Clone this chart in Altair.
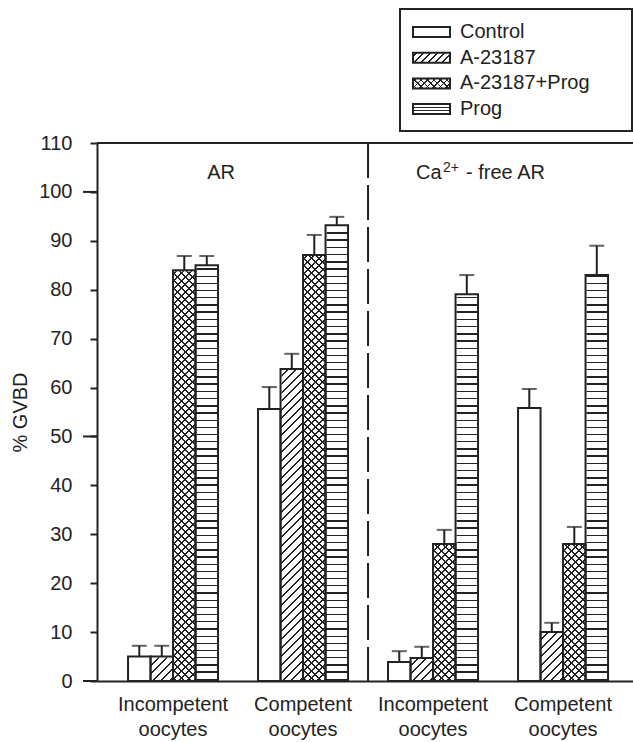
import altair as alt
import pandas as pd

# ---------------- data ----------------
MEDIA = ["AR", "AR", "Ca-free AR", "Ca-free AR"]
STAGES = ["Incompetent oocytes", "Competent oocytes", "Incompetent oocytes", "Competent oocytes"]
TREATMENTS = ["Control", "A-23187", "A-23187+Prog", "Prog"]
# % GVBD per group (rows) and treatment (columns)
GVBD = [
    [5.0, 5.0, 84.0, 85.0],
    [55.6, 63.8, 87.1, 93.2],
    [3.9, 4.7, 28.0, 79.1],
    [55.8, 10.0, 28.0, 83.0],
]
# upper error (SEM) per bar
ERR = [
    [2.2, 2.2, 2.9, 1.9],
    [4.5, 3.1, 4.1, 1.7],
    [2.2, 2.3, 2.9, 3.9],
    [3.9, 1.9, 3.5, 6.0],
]
Y_TICKS = [0, 10, 20, 30, 40, 50, 60, 70, 80, 90, 100, 110]
MAJOR_TICKS = [0, 50, 100]
YMAX = 110

GROUP_KEYS = [f"{m}|{s}" for m, s in zip(MEDIA, STAGES)]

rows = []
for gi, g in enumerate(GROUP_KEYS):
    for ti, t in enumerate(TREATMENTS):
        v = GVBD[gi][ti]
        e = ERR[gi][ti]
        rows.append({"group": g, "treatment": t, "value": v, "upper": v + e, "top": YMAX})
df = pd.DataFrame(rows)
legend_df = pd.DataFrame({"treatment": TREATMENTS})

# ---------------- layout / style ----------------
W, H = 536, 538
BAR_W = 22.5
INK = "#222222"
CLEAR = "rgba(255,255,255,0)"
FONT = "Liberation Sans"


def stripe_fill(kind, w, h, period, lw, phase=0.5):
    if kind == "h":
        span = h
        c = dict(x1=0, y1=0, x2=0, y2=1)
    else:
        span = w + h
        k = (w + h) / (w * w + h * h)
        if kind == "/":
            c = dict(x1=0, y1=0, x2=round(w * k, 6), y2=round(h * k, 6))
        else:
            c = dict(x1=0, y1=1, x2=round(w * k, 6), y2=round(1 - h * k, 6))
    stops = [alt.GradientStop(offset=0, color=CLEAR)]
    s = phase * period
    while s < span:
        a = (s - lw / 2) / span
        b = (s + lw / 2) / span
        if a > 0 and b < 1:
            a = round(a, 6)
            b = round(b, 6)
            stops += [
                alt.GradientStop(offset=a, color=CLEAR),
                alt.GradientStop(offset=a, color=INK),
                alt.GradientStop(offset=b, color=INK),
                alt.GradientStop(offset=b, color=CLEAR),
            ]
        s += period
    stops.append(alt.GradientStop(offset=1, color=CLEAR))
    return alt.LinearGradient(gradient="linear", stops=stops, **c)


x_scale = alt.Scale(domain=GROUP_KEYS, paddingInner=0, paddingOuter=0.0615, align=0.69)
xo_scale = alt.Scale(domain=TREATMENTS, paddingInner=0, paddingOuter=0.889)
y_scale = alt.Scale(domain=[0, YMAX], nice=False, zero=True)

x_axis = alt.Axis(
    title=None, ticks=False, domainWidth=2, domainColor=INK, labelAngle=0,
    labelFontSize=20, labelColor=INK, labelPadding=13, labelLineHeight=25,
    labelExpr="split(split(datum.label, '|')[1], ' ')",
)
y_axis = alt.Axis(
    title="% GVBD", values=Y_TICKS, grid=False, tickSize=7, tickWidth=2, tickColor=INK,
    domainWidth=2, domainColor=INK, labelFontSize=20, labelColor=INK, labelPadding=18,
    titleFontSize=20, titleFontWeight="normal", titleColor=INK, titleX=-77,
    titleY=H / 2, titleBaseline="middle", titleAngle=-90,
)

X = alt.X("group:N", scale=x_scale, axis=x_axis, sort=GROUP_KEYS)
XO = alt.XOffset("treatment:N", scale=xo_scale, sort=TREATMENTS)

base = alt.Chart(df)


def pattern_layer(treat, kind, period, lw, phase=0.5):
    return base.transform_filter(alt.datum.treatment == treat).mark_bar(
        fill=stripe_fill(kind, BAR_W, H, period, lw, phase), strokeWidth=0
    ).encode(x=X, xOffset=XO, y=alt.Y("top:Q", scale=y_scale, axis=y_axis))


hatch = pattern_layer("A-23187", "/", 8.5, 1.8)
cross1 = pattern_layer("A-23187+Prog", "/", 7.5, 1.7)
cross2 = pattern_layer("A-23187+Prog", "\\", 7.5, 1.7)
horiz = pattern_layer("Prog", "h", 7.2, 1.4)

# white mask above each bar (slightly widened by a white stroke to hide edge pixels)
cover = base.mark_bar(fill="white", stroke="white", strokeWidth=2).encode(
    x=X, xOffset=XO, y=alt.Y("value:Q", scale=y_scale, axis=y_axis), y2="top:Q"
)
outline = base.mark_bar(fillOpacity=0, stroke=INK, strokeWidth=2).encode(
    x=X, xOffset=XO, y=alt.Y("value:Q", scale=y_scale, axis=y_axis)
)
err_line = base.mark_rule(color=INK, strokeWidth=2).encode(
    x=X, xOffset=XO, y=alt.Y("value:Q", scale=y_scale, axis=y_axis), y2="upper:Q"
)
err_cap = base.mark_tick(orient="horizontal", size=15, thickness=2, color=INK).encode(
    x=X, xOffset=XO, y=alt.Y("upper:Q", scale=y_scale, axis=y_axis)
)

divider_df = pd.DataFrame({"group": [GROUP_KEYS[2]]})
divider = alt.Chart(divider_df).mark_rule(color=INK, strokeWidth=2, strokeDash=[35, 7]).encode(
    x=alt.X("group:N", scale=x_scale, axis=x_axis, bandPosition=0),
    y=alt.datum(YMAX), y2=alt.datum(0),
)

frame_top = alt.Chart(divider_df).mark_rule(color=INK, strokeWidth=2).encode(
    y=alt.datum(YMAX), x=alt.value(0), x2=alt.value("width")
)

major_df = pd.DataFrame({"tick": MAJOR_TICKS})
major = alt.Chart(major_df).mark_rule(color=INK, strokeWidth=2).encode(
    y=alt.Y("tick:Q", scale=y_scale, axis=y_axis), x=alt.value(-14), x2=alt.value(0)
)

ar_df = pd.DataFrame({"group": [GROUP_KEYS[1]], "label": ["AR"]})
ca_df = pd.DataFrame({"group": [GROUP_KEYS[3]], "a": ["Ca"], "b": ["2+"], "c": ["- free AR"]})
lab_x = alt.X("group:N", scale=x_scale, axis=x_axis, bandPosition=0)
ar_text = alt.Chart(ar_df).mark_text(fontSize=20, color=INK, align="center", baseline="alphabetic", dx=-17).encode(
    x=lab_x, y=alt.value(36), text="label:N")
ca_a = alt.Chart(ca_df).mark_text(fontSize=20, color=INK, align="left", baseline="alphabetic", dx=-82).encode(
    x=lab_x, y=alt.value(36), text="a:N")
ca_b = alt.Chart(ca_df).mark_text(fontSize=14, color=INK, align="left", baseline="alphabetic", dx=-55).encode(
    x=lab_x, y=alt.value(29), text="b:N")
ca_c = alt.Chart(ca_df).mark_text(fontSize=20, color=INK, align="left", baseline="alphabetic", dx=-32).encode(
    x=lab_x, y=alt.value(36), text="c:N")

main = alt.layer(hatch, cross1, cross2, horiz, cover, outline, err_line, err_cap,
                 divider, frame_top, major, ar_text, ca_a, ca_b, ca_c)

# ---------------- legend ----------------
LEG_SYM_W, LEG_SYM_H = 37, 10
ly_scale = alt.Scale(domain=TREATMENTS, range=[-123.85, -21.05], paddingInner=0.61, paddingOuter=0.305)
LY = alt.Y("treatment:N", scale=ly_scale, axis=None, sort=TREATMENTS)
lbase = alt.Chart(legend_df)

box = alt.Chart(pd.DataFrame({"k": [0]})).mark_rect(fill="white", stroke=INK, strokeWidth=2).encode(
    x=alt.value(303), x2=alt.value(535), y=alt.value(-134), y2=alt.value(-12)
)


def leg_pattern(treat, kind, period, lw, phase=0.5):
    return lbase.transform_filter(alt.datum.treatment == treat).mark_rect(
        fill=stripe_fill(kind, LEG_SYM_W, LEG_SYM_H, period, lw, phase), strokeWidth=0
    ).encode(y=LY, x=alt.value(316), x2=alt.value(353))


lp1 = leg_pattern("A-23187", "/", 7, 1.7)
lp2 = leg_pattern("A-23187+Prog", "/", 6.5, 1.6)
lp3 = leg_pattern("A-23187+Prog", "\\", 6.5, 1.6)
lp4 = leg_pattern("Prog", "h", 3.33, 1.3, phase=1.0)
lout = lbase.mark_rect(fillOpacity=0, stroke=INK, strokeWidth=2).encode(
    y=LY, x=alt.value(316), x2=alt.value(353))
ltext = lbase.mark_text(fontSize=20, color=INK, align="left", baseline="middle").encode(
    y=LY, x=alt.value(363), text="treatment:N")

legend = alt.layer(box, lp1, lp2, lp3, lp4, lout, ltext)

chart = alt.layer(main, legend).resolve_scale(y="independent").properties(
    width=W, height=H,
    autosize=alt.AutoSizeParams(type="none"),
    padding={"left": 97, "top": 143, "right": 0, "bottom": 61},
).configure(font=FONT).configure_view(strokeWidth=0)

chart.save("out.html", embed_options={"renderer": "svg", "actions": False})
